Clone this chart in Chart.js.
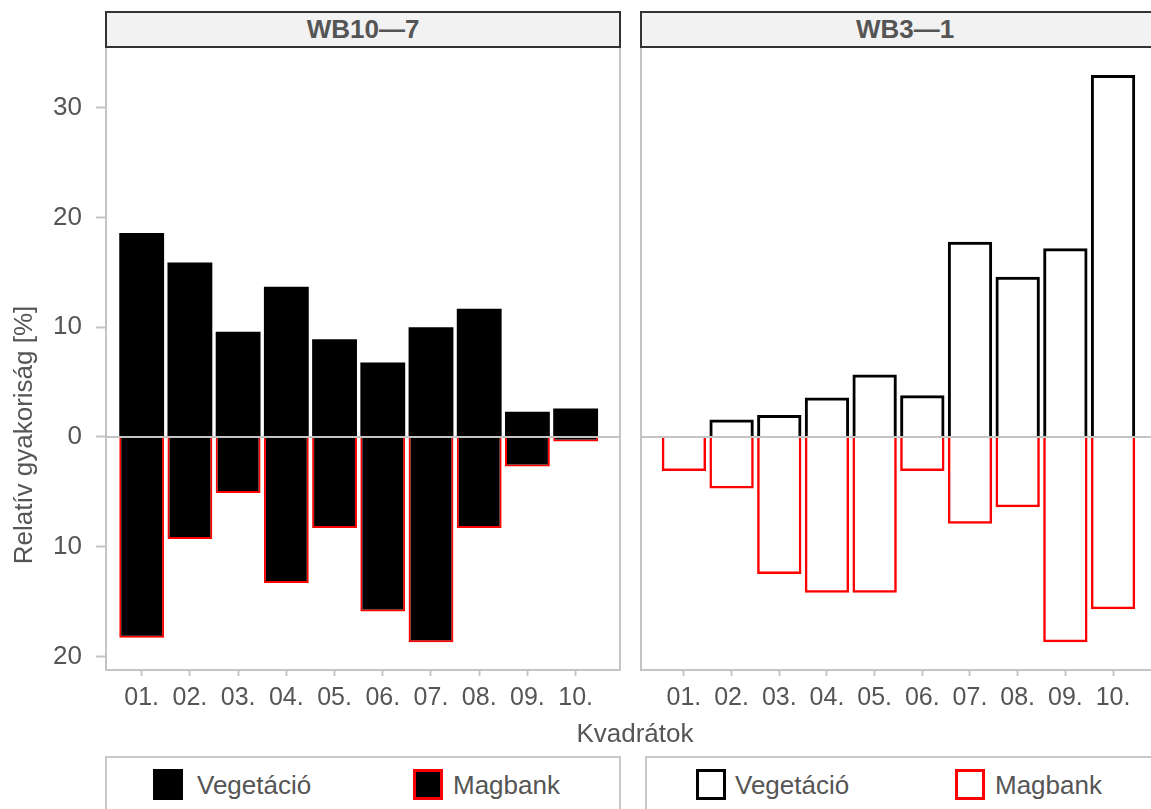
<!DOCTYPE html>
<html>
<head>
<meta charset="utf-8">
<script src="https://cdn.jsdelivr.net/npm/chart.js@4.4.1/dist/chart.umd.min.js"></script>
<style>
  body { margin:0; background:#fff; overflow:hidden; font-family:"Liberation Sans", Arial, sans-serif; }
  #wrap { position:relative; width:1151px; height:809px; overflow:hidden; }
  canvas { position:absolute; }
  .strip { position:absolute; box-sizing:border-box; top:11px; height:37px; background:#f2f2f2; border:2px solid #333;
           color:#555; font-weight:bold; font-size:26px; line-height:32px; text-align:center; }
  .legbox { position:absolute; box-sizing:border-box; top:756px; height:90px; border:2px solid #c8c8c8; }
  .key { position:absolute; box-sizing:border-box; top:769px; width:30px; height:31px; }
  .lab { position:absolute; top:772px; font-size:26px; line-height:26px; color:#555; }
  .title { position:absolute; font-size:26px; line-height:26px; color:#555; }
</style>
</head>
<body>
<div id="wrap">
  <canvas id="left" width="640" height="673" style="left:0;top:47px"></canvas>
  <canvas id="right" width="532" height="673" style="left:640px;top:47px"></canvas>

  <div class="strip" style="left:105px;width:516px">WB10—7</div>
  <div class="strip" style="left:640px;width:530px">WB3—1</div>

  <div class="title" style="left:535px;top:720px;width:200px;text-align:center">Kvadrátok</div>
  <div class="title" style="left:-127px;top:420px;width:300px;height:30px;line-height:30px;text-align:center;transform:rotate(-90deg)">Relatív gyakoriság [%]</div>

  <div class="legbox" style="left:105px;width:516px"></div>
  <div class="key" style="left:153px;background:#000"></div>
  <div class="lab" style="left:197px">Vegetáció</div>
  <div class="key" style="left:413px;background:#000;border:3px solid #ff0000"></div>
  <div class="lab" style="left:453px">Magbank</div>

  <div class="legbox" style="left:645px;width:530px"></div>
  <div class="key" style="left:696px;border:3px solid #000"></div>
  <div class="lab" style="left:735px">Vegetáció</div>
  <div class="key" style="left:955px;border:3px solid #ff0000"></div>
  <div class="lab" style="left:995px">Magbank</div>
</div>
<script>
// categories and tick values
const categories = ['01.', '02.', '03.', '04.', '05.', '06.', '07.', '08.', '09.', '10.'];
const yTicks = [-20, -10, 0, 10, 20, 30];

// WB10—7 (vegetation up, seed bank down)
const wb10Veg = [18.6, 15.9, 9.6, 13.7, 8.9, 6.8, 10.0, 11.7, 2.3, 2.6];
const wb10Mag = [-18.3, -9.3, -5.1, -13.3, -8.3, -15.9, -18.7, -8.3, -2.7, -0.4];

// WB3—1
const wb3Veg = [0, 1.6, 2.0, 3.6, 5.7, 3.8, 17.8, 14.6, 17.2, 33.0];
const wb3Mag = [-3.1, -4.7, -12.5, -14.2, -14.2, -3.1, -7.9, -6.4, -18.7, -15.7];

const toPoints = arr => arr.map((v, i) => ({x: i + 1, y: v === 0 ? null : v}));

const panelPlugin = {
  id: 'panel',
  afterDatasetsDraw(chart) {
    const ctx = chart.ctx, a = chart.chartArea;
    const y0 = chart.scales.y.getPixelForValue(0);
    ctx.save();
    ctx.strokeStyle = '#c4c4c4';
    ctx.lineWidth = 2;
    ctx.beginPath();
    ctx.moveTo(a.left, y0);
    ctx.lineTo(a.right, y0);
    ctx.stroke();
    ctx.strokeRect(a.left, a.top, a.right - a.left, a.bottom - a.top);
    ctx.restore();
  }
};

function makePanel(id, veg, mag, vegStyle, magStyle, xmin, xmax, showY, pad) {
  new Chart(document.getElementById(id), {
    type: 'bar',
    data: {
      datasets: [
        Object.assign({label: 'Vegetáció', data: toPoints(veg)}, vegStyle),
        Object.assign({label: 'Magbank', data: toPoints(mag)}, magStyle)
      ]
    },
    options: {
      responsive: false,
      animation: false,
      layout: {padding: pad},
      barPercentage: 0.93,
      categoryPercentage: 1.0,
      plugins: {legend: {display: false}, tooltip: {enabled: false}},
      scales: {
        x: {
          type: 'linear', min: xmin, max: xmax, stacked: true, offset: false,
          afterBuildTicks: s => { s.ticks = categories.map((c, i) => ({value: i + 1})); },
          afterFit: s => { s.height = 50; s.paddingLeft = 0; s.paddingRight = 0; },
          grid: {offset: false, drawOnChartArea: false, tickLength: 6, tickColor: '#c4c4c4', tickWidth: 2},
          border: {display: false},
          ticks: {
            autoSkip: false, maxRotation: 0, padding: 7, color: '#555',
            font: {family: 'Liberation Sans', size: 25},
            callback: v => categories[v - 1]
          }
        },
        y: {
          display: showY, min: -21.24, max: 35.55, stacked: true,
          afterBuildTicks: s => { s.ticks = yTicks.map(v => ({value: v})); },
          afterFit: s => { s.width = showY ? 106 : 0; s.paddingTop = 0; s.paddingBottom = 0; },
          grid: {drawOnChartArea: false, tickLength: 10, tickColor: '#c4c4c4', tickWidth: 2},
          border: {display: false},
          ticks: {
            padding: 14, color: '#555',
            font: {family: 'Liberation Sans', size: 26},
            callback: v => Math.abs(v)
          }
        }
      }
    },
    plugins: [panelPlugin]
  });
}

makePanel('left', wb10Veg, wb10Mag,
  {backgroundColor: '#000', borderWidth: 0},
  {backgroundColor: '#000', borderColor: '#ff0000', borderWidth: 2},
  0.26, 10.92, true, {left: 0, right: 20, top: 0, bottom: 0});

makePanel('right', wb3Veg, wb3Mag,
  {backgroundColor: 'rgba(0,0,0,0)', borderColor: '#000', borderWidth: 3},
  {backgroundColor: 'rgba(0,0,0,0)', borderColor: '#ff0000', borderWidth: 2.5},
  0.1, 10.88, false, {left: 1, right: 17, top: 0, bottom: 0});
</script>
</body>
</html>
